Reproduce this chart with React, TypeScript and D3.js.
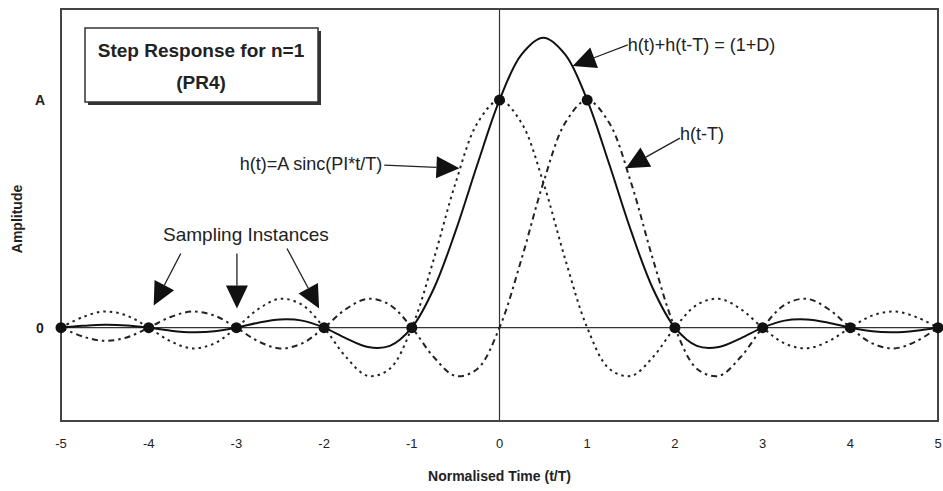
import React from "react";
import * as d3 from "d3";

// time samples (t/T)
const times: number[] = [
  -5, -4.75, -4.5, -4.25, -4, -3.75, -3.5, -3.25, -3, -2.75, -2.5, -2.25, -2, -1.75, -1.5, -1.25,
  -1, -0.75, -0.5, -0.25, 0, 0.25, 0.5, 0.75, 1, 1.25, 1.5, 1.75, 2, 2.25, 2.5, 2.75, 3, 3.25,
  3.5, 3.75, 4, 4.25, 4.5, 4.75, 5,
];
// h(t) = A sinc(PI*t/T)
const hT0: number[] = [
  0, 0.047, 0.071, 0.053, 0, -0.06, -0.091, -0.069, 0, 0.082, 0.127, 0.1, 0, -0.129, -0.212, -0.18,
  0, 0.3, 0.637, 0.9, 1, 0.9, 0.637, 0.3, 0, -0.18, -0.212, -0.129, 0, 0.1, 0.127, 0.082, 0, -0.069,
  -0.091, -0.06, 0, 0.053, 0.071, 0.047, 0,
];
// h(t-T)
const hT1: number[] = [
  0, -0.039, -0.058, -0.043, 0, 0.047, 0.071, 0.053, 0, -0.06, -0.091, -0.069, 0, 0.082, 0.127, 0.1,
  0, -0.129, -0.212, -0.18, 0, 0.3, 0.637, 0.9, 1, 0.9, 0.637, 0.3, 0, -0.18, -0.212, -0.129, 0, 0.1,
  0.127, 0.082, 0, -0.069, -0.091, -0.06, 0,
];
// h(t)+h(t-T)
const hSum: number[] = [
  0, 0.008, 0.013, 0.01, 0, -0.013, -0.02, -0.016, 0, 0.022, 0.036, 0.031, 0, -0.047, -0.085, -0.08,
  0, 0.171, 0.425, 0.72, 1, 1.2, 1.274, 1.2, 1, 0.72, 0.425, 0.171, 0, -0.08, -0.085, -0.047, 0, 0.031,
  0.036, 0.022, 0, -0.016, -0.02, -0.013, 0,
];
// sampling instances
const sampleTimes: number[] = [-5, -4, -3, -2, -1, 0, 1, 2, 3, 4, 5];
const sampleValues: number[] = [0, 0, 0, 0, 0, 1, 1, 0, 0, 0, 0];
const xTicks: number[] = [-5, -4, -3, -2, -1, 0, 1, 2, 3, 4, 5];
const yTickValues: number[] = [0, 1];
const yTickLabels: string[] = ["0", "A"];

const W = 943;
const H = 491;
const left = 61, right = 938, top = 9, bottom = 421;

const x = d3.scaleLinear().domain([-5, 5]).range([left, right]);
const y = d3.scaleLinear().domain([-0.41, 1.4]).range([bottom, top]);

type Pt = [number, number];
const line = d3
  .line<Pt>()
  .x((d) => x(d[0]))
  .y((d) => y(d[1]))
  .curve(d3.curveCatmullRom.alpha(0.5));

const series = (vals: number[]): Pt[] => times.map((t, i) => [t, vals[i]]);

// annotation arrows in data coordinates: [fromT, fromA, toT, toA]
const arrows: [number, number, number, number][] = [
  [1.463, 1.242, 0.834, 1.15],
  [2.057, 0.833, 1.44, 0.7],
  [-1.314, 0.714, -0.457, 0.7],
  [-3.634, 0.326, -3.943, 0.097],
  [-2.994, 0.326, -2.994, 0.084],
  [-2.423, 0.348, -2.057, 0.084],
];

function Arrow({ a }: { a: [number, number, number, number] }) {
  const x1 = x(a[0]), y1 = y(a[1]), x2 = x(a[2]), y2 = y(a[3]);
  const ang = Math.atan2(y2 - y1, x2 - x1);
  const L = 23, Wd = 11;
  const bx = x2 - L * Math.cos(ang), by = y2 - L * Math.sin(ang);
  const px = -Math.sin(ang) * Wd, py = Math.cos(ang) * Wd;
  return (
    <g>
      <line x1={x1} y1={y1} x2={bx} y2={by} stroke="#222" strokeWidth={1.3} />
      <path d={`M${x2},${y2} L${bx + px},${by + py} L${bx - px},${by - py} Z`} fill="#111" />
    </g>
  );
}

export default function App() {
  const font = "Arial, 'Liberation Sans', Helvetica, sans-serif";
  const narrow = "'Liberation Sans Narrow', 'Arial Narrow', Arial, sans-serif";
  return (
    <svg
      width={W}
      height={H}
      style={{ position: "absolute", left: 0, top: 0, background: "#fff" }}
      fontFamily={font}
    >
      <rect x={0} y={0} width={W} height={H} fill="#fff" />
      {/* axes lines */}
      <line x1={left} x2={right} y1={y(0)} y2={y(0)} stroke="#333" strokeWidth={1.2} />
      <line x1={x(0)} x2={x(0)} y1={top} y2={bottom} stroke="#333" strokeWidth={1.2} />
      {/* curves */}
      <path d={line(series(hT0)) || ""} fill="none" stroke="#222" strokeWidth={2} strokeDasharray="2.5,4" />
      <path d={line(series(hT1)) || ""} fill="none" stroke="#222" strokeWidth={2} strokeDasharray="6,4,2.5,4" />
      <path d={line(series(hSum)) || ""} fill="none" stroke="#111" strokeWidth={2} />
      {/* frame */}
      <rect x={left} y={top} width={right - left} height={bottom - top} fill="none" stroke="#444" strokeWidth={2} />
      {/* sample points */}
      {sampleTimes.map((t, i) => (
        <circle key={i} cx={x(t)} cy={y(sampleValues[i])} r={5.5} fill="#111" />
      ))}
      {/* x tick labels */}
      {xTicks.map((t) => (
        <text key={t} x={x(t)} y={bottom + 27} fontSize={13} fontFamily={narrow} textAnchor="middle" fill="#222">
          {t}
        </text>
      ))}
      {/* y tick labels */}
      {yTickValues.map((v, i) => (
        <text key={v} x={left - 21} y={y(v) + 5} fontSize={14} fontWeight="bold" textAnchor="middle" fill="#222">
          {yTickLabels[i]}
        </text>
      ))}
      <text x={x(0)} y={bottom + 60} fontSize={14} fontWeight="bold" fontFamily={narrow} textAnchor="middle" fill="#222">
        Normalised Time (t/T)
      </text>
      <text
        transform={`translate(22,${(top + bottom) / 2 + 4}) rotate(-90)`}
        fontSize={14}
        fontWeight="bold"
        fontFamily={narrow}
        textAnchor="middle"
        fill="#222"
      >
        Amplitude
      </text>
      {/* title box */}
      <rect x={88} y={31} width={233} height={74} fill="#333" />
      <rect x={85} y={28} width={233} height={74} fill="#fff" stroke="#333" strokeWidth={1.5} />
      <text x={201} y={57} fontSize={19} fontWeight="bold" textAnchor="middle" fill="#222">
        Step Response for n=1
      </text>
      <text x={201} y={89} fontSize={19} fontWeight="bold" textAnchor="middle" fill="#222">
        (PR4)
      </text>
      {/* annotations */}
      {arrows.map((a, i) => (
        <Arrow key={i} a={a} />
      ))}
      <text x={x(1.463)} y={y(1.242) + 6} fontSize={18} fill="#222">
        h(t)+h(t-T) = (1+D)
      </text>
      <text x={x(2.057)} y={y(0.833) + 2} fontSize={18} fill="#222">
        h(t-T)
      </text>
      <text x={x(-1.314) - 2} y={y(0.714) + 5} fontSize={18} textAnchor="end" fill="#222">
        h(t)=A sinc(PI*t/T)
      </text>
      <text x={x(-2.891)} y={y(0.405) + 6} fontSize={19} textAnchor="middle" fill="#222">
        Sampling Instances
      </text>
    </svg>
  );
}
